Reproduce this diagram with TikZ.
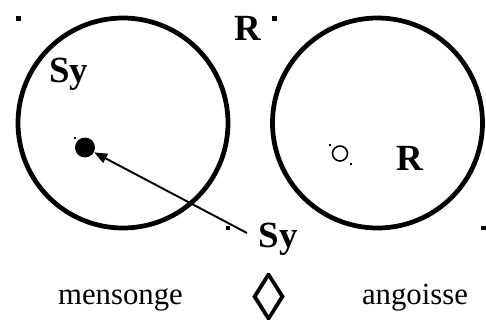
\documentclass[tikz,border=0pt]{standalone}
\usepackage{fontspec}
\setmainfont{Liberation Serif}
\usepackage{tikz}
\usetikzlibrary{arrows.meta, calc}

\begin{document}
\begin{tikzpicture}[
    ring/.style={draw, circle, line width=2.7pt, minimum size=4.2cm, inner sep=0pt},
    handle/.style={fill, inner sep=0pt, minimum size=0.09cm},
    tick/.style={fill, inner sep=0pt, minimum size=0.04cm},
    big/.style={font=\fontsize{21}{24}\selectfont\bfseries, inner sep=0pt, anchor=base},
    word/.style={font=\fontsize{17.5}{20}\selectfont, inner sep=0pt, anchor=base}
]
\useasboundingbox (0,0) rectangle (9.72,6.4);
% Draw circles
\node[ring] (sycircle) at (2.46,3.94) {};
\node[ring] (rcircle) at (7.55,3.94) {};
% corner handles
\node[handle] (h1) at (0.37,6.03) {};
\node[handle] (h2) at (4.56,1.84) {};
\node[handle] (h3) at (5.49,6.03) {};
\node[handle] (h4) at (9.67,1.84) {};
% inner points
\node[circle, fill, minimum size=0.4cm, inner sep=0pt] (dot) at (1.7,3.45) {};
\node[tick] (t1) at (1.5,3.64) {};
\node[circle, draw, line width=0.9pt, minimum size=0.3cm, inner sep=0pt] (hole) at (6.8,3.33) {};
\node[tick] (t2) at (6.6,3.5) {};
\node[tick] (t3) at (7.02,3.12) {};
% labels
\node[big] (sytop) at (1.37,4.76) {Sy};
\node[big] (rtop) at (4.96,5.6) {R};
\node[big] (rright) at (8.19,3.0) {R};
\node[big] (sybottom) at (5.56,1.46) {Sy};
\node[word] (mens) at (2.41,0.32) {mensonge};
\node[word] (ango) at (8.3,0.32) {angoisse};
\node[font=\fontsize{38}{40}\selectfont\bfseries, inner sep=0pt] (losange) at (5.38,0.46) {◊};
% arrow
\coordinate (sytail) at (4.94,1.74);
\draw[line width=1.1pt, -{Triangle[length=0.26cm, width=0.2cm]}] (sytail) -- (dot);
\end{tikzpicture}
\end{document}
